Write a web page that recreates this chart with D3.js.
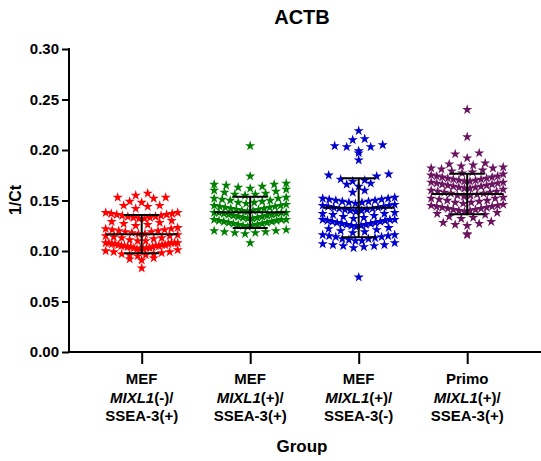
<!DOCTYPE html>
<html><head><meta charset="utf-8">
<script src="https://cdn.jsdelivr.net/npm/d3@7"></script>
<style>body{margin:0;background:#fff}svg{display:block;font-family:"Liberation Sans",Arial,sans-serif}</style>
</head><body><svg id="c" width="541" height="461"></svg>
<script>
const categories = ["g1","g2","g3","g4"];
const labelLine1 = ["MEF","MEF","MEF","Primo"];
const labelLine2Sign = ["(-)/","(+)/","(+)/","(+)/"];
const labelLine3 = ["SSEA-3(+)","SSEA-3(+)","SSEA-3(-)","SSEA-3(+)"];
const colors = ["#ff0000","#008000","#0000cc","#6a1560"];
const yTicks = [0.00,0.05,0.10,0.15,0.20,0.25,0.30];
const means = [0.1167,0.1383,0.1429,0.1564];
const sds = [0.0190,0.0155,0.0292,0.0201];

const redValues = [0.152,0.153,0.153,0.155,0.157,
 0.142,0.144,0.145,0.145,0.148,0.149,
 0.132,0.132,0.133,0.133,0.134,0.134,0.135,0.135,0.136,0.136,0.137,0.137,0.138,0.138,
 0.125,0.126,0.127,0.128,0.129,0.130,
 0.117,0.117,0.118,0.119,0.119,0.120,0.120,0.121,0.121,0.122,0.122,0.123,
 0.110,0.110,0.111,0.112,0.113,0.113,0.114,0.115,0.115,0.116,
 0.102,0.102,0.102,0.103,0.103,0.103,0.104,0.104,0.104,0.105,0.105,0.105,0.105,0.106,0.106,0.106,0.107,0.107,0.107,0.108,0.108,0.108,0.108,0.108,
 0.095,0.096,0.096,0.097,0.097,0.098,0.099,0.099,0.100,0.101,
 0.091,0.092,0.093,
 0.083];
const greenValues = [0.204,0.174,
 0.162,0.163,0.164,0.165,0.166,0.166,0.167,
 0.155,0.156,0.156,0.157,0.158,0.159,0.160,0.161,
 0.147,0.148,0.148,0.149,0.150,0.150,0.151,0.152,0.152,0.153,
 0.139,0.140,0.140,0.141,0.141,0.142,0.142,0.143,0.143,0.144,0.144,0.145,0.145,0.146,
 0.132,0.132,0.133,0.133,0.134,0.134,0.135,0.135,0.136,0.136,0.137,0.137,0.138,0.138,0.138,0.138,
 0.124,0.125,0.125,0.126,0.126,0.127,0.127,0.128,0.128,0.129,0.129,0.130,0.130,0.131,0.131,0.131,
 0.117,0.118,0.118,0.119,0.119,0.120,0.120,0.121,
 0.108];
const blueValues = [0.219,0.210,0.211,0.199,0.203,0.203,0.204,0.205,0.197,0.190,
 0.169,0.170,0.171,0.174,0.175,0.176,0.164,0.166,0.167,0.158,0.160,
 0.147,0.148,0.148,0.149,0.149,0.150,0.150,0.151,0.151,0.152,0.152,0.153,
 0.139,0.140,0.140,0.141,0.141,0.142,0.142,0.143,0.143,0.144,0.144,0.145,0.145,0.146,
 0.132,0.133,0.134,0.135,0.136,0.137,0.137,0.138,
 0.124,0.125,0.125,0.126,0.126,0.127,0.127,0.128,0.128,0.129,0.129,0.130,0.130,0.131,0.131,0.131,
 0.118,0.119,0.120,0.121,0.122,0.123,
 0.110,0.110,0.111,0.112,0.112,0.113,0.114,0.114,0.115,0.115,0.116,0.116,
 0.103,0.104,0.105,0.105,0.106,0.106,0.107,0.108,
 0.074];
const purpleValues = [0.240,0.213,0.192,0.196,0.197,
 0.184,0.185,0.186,0.187,
 0.177,0.178,0.179,0.180,0.181,0.182,0.182,0.183,
 0.169,0.169,0.170,0.170,0.171,0.171,0.172,0.172,0.173,0.173,0.174,0.174,0.175,0.176,
 0.162,0.162,0.163,0.163,0.164,0.164,0.165,0.165,0.166,0.166,0.167,0.167,0.168,0.168,
 0.154,0.155,0.155,0.156,0.157,0.157,0.158,0.158,0.159,0.159,0.160,0.161,
 0.147,0.148,0.148,0.149,0.150,0.150,0.151,0.152,0.152,0.153,
 0.139,0.140,0.140,0.141,0.141,0.142,0.142,0.143,0.143,0.144,0.144,0.145,0.145,0.146,
 0.132,0.133,0.134,0.136,0.137,0.138,
 0.125,0.126,0.127,0.128,0.129,
 0.116,0.117];
const seriesValues = [redValues,greenValues,blueValues,purpleValues];

const svg = d3.select("#c");
const axisX = 69, axisY0 = 352, axisYTop = 49, axisRight = 541;
const x = d3.scalePoint().domain(categories).range([141.7,467.2]);
const y = d3.scaleLinear().domain([0,0.30]).range([axisY0,axisYTop]);

// points (beeswarm-style binned layout)
const binH = 0.0075, maxW = 72, maxStep = 12;
const star = d3.symbol().type(d3.symbolStar).size(32);
seriesValues.forEach((vals,gi)=>{
  const bins = d3.group(vals, v=>Math.round(v/binH));
  const pts = [];
  for (const [,arr] of bins){
    const s = arr.slice().sort((a,b)=>a-b);
    const n = s.length;
    const d = n>1 ? Math.min(maxStep, maxW/(n-1)) : 0;
    s.forEach((v,k)=>{
      let off;
      if (n%2===1){ off = k===0?0:(k%2===1?-1:1)*Math.ceil(k/2)*d; }
      else { off = (k%2===0?-1:1)*(Math.floor(k/2)+0.5)*d; }
      pts.push({v,off});
    });
  }
  svg.append("g").selectAll("path").data(pts).join("path")
    .attr("d",star)
    .attr("transform",p=>`translate(${x(categories[gi])+p.off},${y(p.v)})`)
    .attr("fill",colors[gi]);
});

// mean & SD
const eb = svg.append("g").attr("stroke","#000").attr("stroke-width",2);
categories.forEach((c,i)=>{
  const cx = x(c);
  eb.append("line").attr("x1",cx-36).attr("x2",cx+36).attr("y1",y(means[i])).attr("y2",y(means[i]));
  eb.append("line").attr("x1",cx).attr("x2",cx).attr("y1",y(means[i]+sds[i])).attr("y2",y(means[i]-sds[i]));
  eb.append("line").attr("x1",cx-17.5).attr("x2",cx+17.5).attr("y1",y(means[i]+sds[i])).attr("y2",y(means[i]+sds[i]));
  eb.append("line").attr("x1",cx-17.5).attr("x2",cx+17.5).attr("y1",y(means[i]-sds[i])).attr("y2",y(means[i]-sds[i]));
});

// y axis
const ya = svg.append("g").attr("transform",`translate(${axisX},0)`)
  .call(d3.axisLeft(y).tickValues(yTicks).tickFormat(d3.format(".2f")).tickSize(7).tickPadding(3));
ya.select(".domain").remove();
ya.append("line").attr("x1",0).attr("x2",0).attr("y1",axisYTop-1).attr("y2",axisY0+1).attr("stroke","#000").attr("stroke-width",2);
ya.selectAll(".tick line").attr("stroke","#000").attr("stroke-width",2);
ya.selectAll(".tick text").attr("fill","#000").style("font-size","15px").style("font-weight","bold")
  .style("font-family",'"Liberation Sans",Arial,sans-serif');

// x axis
const xa = svg.append("g").attr("transform",`translate(0,${axisY0})`)
  .call(d3.axisBottom(x).tickSize(12).tickFormat(""));
xa.select(".domain").remove();
xa.append("line").attr("x1",axisX-1).attr("x2",axisRight).attr("y1",0).attr("y2",0).attr("stroke","#000").attr("stroke-width",2);
xa.selectAll(".tick line").attr("stroke","#000").attr("stroke-width",2);

// category labels
const lab = svg.append("g").attr("text-anchor","middle").style("font-size","15px").style("font-weight","bold").attr("fill","#000");
categories.forEach((c,i)=>{
  const cx = x(c);
  lab.append("text").attr("x",cx).attr("y",384).text(labelLine1[i]);
  const t2 = lab.append("text").attr("x",cx).attr("y",403);
  t2.append("tspan").style("font-style","italic").text("MIXL1");
  t2.append("tspan").text(labelLine2Sign[i]);
  lab.append("text").attr("x",cx).attr("y",421).text(labelLine3[i]);
});

// titles
svg.append("text").attr("x",302).attr("y",24).attr("text-anchor","middle")
  .style("font-size","20px").style("font-weight","bold").text("ACTB");
svg.append("text").attr("x",302).attr("y",452).attr("text-anchor","middle")
  .style("font-size","17px").style("font-weight","bold").text("Group");
svg.append("text").attr("transform","translate(21,200) rotate(-90)").attr("text-anchor","middle")
  .style("font-size","16px").style("font-weight","bold").text("1/Ct");
</script></body></html>
